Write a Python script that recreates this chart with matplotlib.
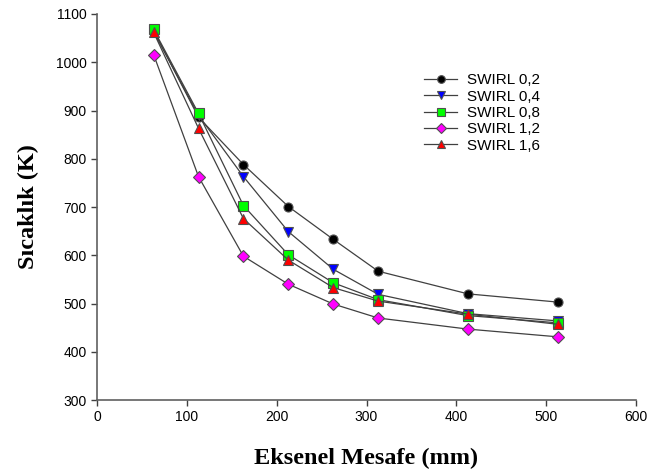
import matplotlib
matplotlib.use("Agg")
from matplotlib import pyplot as plt

# axial distance (mm)
mesafe = [63, 113, 163, 213, 263, 313, 413, 513]

# temperature (K) for each swirl number
swirl_02 = [1065, 886, 788, 701, 633, 567, 520, 503]
swirl_04 = [1064, 890, 763, 649, 571, 519, 479, 464]
swirl_08 = [1068, 894, 703, 601, 543, 508, 475, 460]
swirl_12 = [1016, 763, 598, 540, 499, 470, 447, 431]
swirl_16 = [1062, 863, 676, 590, 533, 505, 478, 457]

etiketler = ["SWIRL 0,2", "SWIRL 0,4", "SWIRL 0,8", "SWIRL 1,2", "SWIRL 1,6"]

plt.rcParams['font.family'] = ['Liberation Sans', 'DejaVu Sans']

fig = plt.figure(figsize=(6.48, 4.74), dpi=100)
ax = fig.add_axes([0.1497, 0.156, 0.8318, 0.8145])

seriler = [swirl_02, swirl_04, swirl_08, swirl_12, swirl_16]
stiller = [('o', 'black', 6.5), ('v', '#0000ff', 7), ('s', '#00ff00', 6.5),
           ('D', '#ff00ff', 6), ('^', '#ff0000', 7)]

for seri, ad, (m, c, ms) in zip(seriler, etiketler, stiller):
    ax.plot(mesafe, seri, color='#404040', lw=0.9, marker=m, markersize=ms,
            markerfacecolor=c, markeredgecolor='#505050', markeredgewidth=0.8,
            label=ad)

ax.set_xlim(0, 600)
ax.set_ylim(300, 1100)
ax.set_xticks(range(0, 601, 100))
ax.set_yticks(range(300, 1101, 100))
ax.tick_params(labelsize=10, length=4, width=1, color='#404040', direction='out')

ax.spines['top'].set_visible(False)
ax.spines['right'].set_visible(False)
for s in ['left', 'bottom']:
    ax.spines[s].set_color('#606060')
    ax.spines[s].set_linewidth(1.2)

ax.set_xlabel('Eksenel Mesafe (mm)', family='Liberation Serif', fontweight='bold',
              fontsize=17.5, labelpad=17)
ax.set_ylabel('Sıcaklık (K)', family='Liberation Serif', fontweight='bold',
              fontsize=17.5, labelpad=12)

ax.legend(loc='upper left', bbox_to_anchor=(0.596, 0.862), frameon=False,
          fontsize=11, handlelength=2.15, handletextpad=0.65, labelspacing=0.15,
          borderaxespad=0, markerscale=0.85)

plt.savefig("out.png", dpi=100)
